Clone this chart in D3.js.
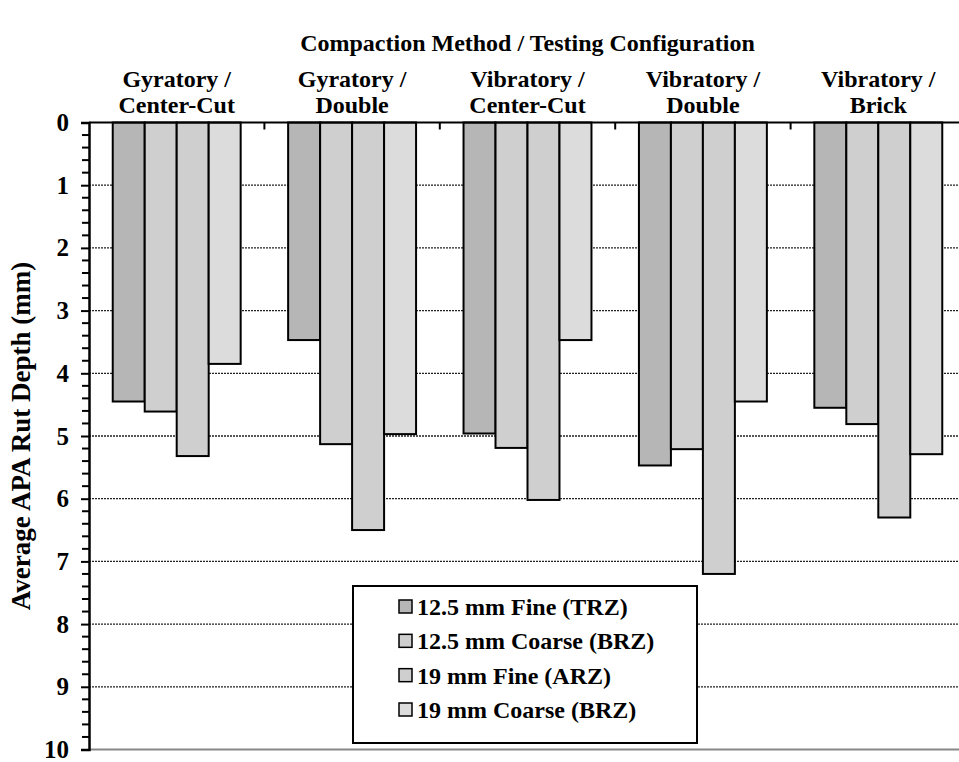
<!DOCTYPE html>
<html>
<head>
<meta charset="utf-8">
<script src="https://cdn.jsdelivr.net/npm/d3@7"></script>
<style>
  body { margin: 0; background: #fff; }
  svg { display: block; font-family: "Liberation Serif", "Times New Roman", serif; font-weight: bold; }
</style>
</head>
<body>
<div id="app"></div>
<script>
// categories (two text lines each)
const categories = ["Gyratory / Center-Cut", "Gyratory / Double", "Vibratory / Center-Cut", "Vibratory / Double", "Vibratory / Brick"]
const categoryLines = [
  ["Gyratory /", "Center-Cut"],
  ["Gyratory /", "Double"],
  ["Vibratory /", "Center-Cut"],
  ["Vibratory /", "Double"],
  ["Vibratory /", "Brick"]
]
const seriesNames = ["12.5 mm Fine (TRZ)", "12.5 mm Coarse (BRZ)", "19 mm Fine (ARZ)", "19 mm Coarse (BRZ)"]
const fine125 = [4.45, 3.47, 4.96, 5.47, 4.55]
const coarse125 = [4.61, 5.13, 5.19, 5.21, 4.81]
const fine19 = [5.32, 6.50, 6.02, 7.20, 6.30]
const coarse19 = [3.85, 4.97, 3.47, 4.45, 5.29]
const yTicks = [0, 1, 2, 3, 4, 5, 6, 7, 8, 9, 10]

const colors = ["#b6b6b6", "#cfcfcf", "#cfcfcf", "#dcdcdc"]
const seriesValues = [fine125, coarse125, fine19, coarse19]

const width = 959, height = 762
const mLeft = 89, mRight = 966, mTop = 122.5, mBottom = 749.5

const svg = d3.select('#app').append('svg')
  .attr('width', width)
  .attr('height', height)

const x0 = d3.scaleBand().domain(categories).range([mLeft, mRight]).paddingInner(0).paddingOuter(0)
const x1 = d3.scaleBand().domain(seriesNames).range([0, x0.bandwidth()]).paddingInner(0).paddingOuter(0.742)
const y = d3.scaleLinear().domain([0, 10]).range([mTop, mBottom])

// gridlines
svg.append('g')
  .selectAll('line')
  .data(yTicks.filter(d => d > 0 && d < 10))
  .enter()
  .append('line')
  .attr('x1', mLeft).attr('x2', mRight)
  .attr('y1', d => y(d)).attr('y2', d => y(d))
  .attr('stroke', '#222')
  .attr('stroke-width', 1.3)
  .attr('stroke-dasharray', '2,1')

// bars
const groups = svg.append('g')
  .selectAll('g')
  .data(categories)
  .enter()
  .append('g')
  .attr('transform', d => 'translate(' + x0(d) + ',0)')

groups.selectAll('rect')
  .data((d, i) => seriesNames.map((s, j) => ({ s: s, v: seriesValues[j][i], j: j })))
  .enter()
  .append('rect')
  .attr('x', d => x1(d.s))
  .attr('y', y(0))
  .attr('width', x1.bandwidth())
  .attr('height', d => y(d.v) - y(0))
  .attr('fill', d => colors[d.j])
  .attr('stroke', '#000')
  .attr('stroke-width', 2)

// bottom line (10)
svg.append('line')
  .attr('x1', mLeft).attr('x2', mRight)
  .attr('y1', y(10)).attr('y2', y(10))
  .attr('stroke', '#888')
  .attr('stroke-width', 2)

// top line with ticks between categories
svg.append('line')
  .attr('x1', mLeft).attr('x2', mRight)
  .attr('y1', y(0)).attr('y2', y(0))
  .attr('stroke', '#000').attr('stroke-width', 2)
svg.append('g')
  .selectAll('line')
  .data(categories.slice(1))
  .enter()
  .append('line')
  .attr('x1', d => x0(d)).attr('x2', d => x0(d))
  .attr('y1', y(0)).attr('y2', y(0) + 7)
  .attr('stroke', '#000').attr('stroke-width', 2)

// left axis
const yAxis = d3.axisLeft(y).tickValues(yTicks).tickSize(8).tickPadding(12)
const ga = svg.append('g')
  .attr('transform', 'translate(' + mLeft + ',0)')
  .call(yAxis)
ga.select('.domain').attr('stroke-width', 2.5)
ga.selectAll('.tick line').attr('stroke-width', 2)
ga.selectAll('.tick text')
  .attr('font-size', 25)
  .attr('font-family', '"Liberation Serif", serif')
  .attr('font-weight', 'bold')
  .attr('fill', '#000')

const minor = d3.range(0, 10.001, 0.2).filter(d => Math.abs(d - Math.round(d)) > 0.01)
svg.append('g')
  .selectAll('line')
  .data(minor)
  .enter()
  .append('line')
  .attr('x1', mLeft - 7).attr('x2', mLeft)
  .attr('y1', d => y(d)).attr('y2', d => y(d))
  .attr('stroke', '#000').attr('stroke-width', 2)

// category labels
const lab = svg.append('g')
  .selectAll('text')
  .data(categories)
  .enter()
  .append('text')
  .attr('x', d => x0(d) + x0.bandwidth() / 2)
  .attr('y', 87)
  .attr('text-anchor', 'middle')
  .attr('font-size', 24)
lab.each(function (d, i) {
  d3.select(this).selectAll('tspan')
    .data(categoryLines[i])
    .enter()
    .append('tspan')
    .attr('x', x0(d) + x0.bandwidth() / 2)
    .attr('dy', (t, k) => k === 0 ? 0 : 26)
    .text(t => t)
})

// title
svg.append('text')
  .attr('x', (mLeft + mRight) / 2)
  .attr('y', 51)
  .attr('text-anchor', 'middle')
  .attr('font-size', 24)
  .text('Compaction Method / Testing Configuration')

// y axis title
svg.append('text')
  .attr('transform', 'translate(30,' + ((mTop + mBottom) / 2) + ') rotate(-90)')
  .attr('text-anchor', 'middle')
  .attr('font-size', 27)
  .text('Average APA Rut Depth (mm)')

// legend
const legend = svg.append('g')
legend.append('rect')
  .attr('x', 353).attr('y', 586)
  .attr('width', 344).attr('height', 157)
  .attr('fill', '#fff')
  .attr('stroke', '#000')
  .attr('stroke-width', 2)

const ly = d3.scalePoint().domain(seriesNames).range([607, 710])
const items = legend.selectAll('g.item')
  .data(seriesNames)
  .enter()
  .append('g')
  .attr('class', 'item')
items.append('rect')
  .attr('x', 399).attr('y', d => ly(d) - 7)
  .attr('width', 13).attr('height', 13)
  .attr('fill', (d, i) => colors[i])
  .attr('stroke', '#000')
  .attr('stroke-width', 1.5)
items.append('text')
  .attr('x', 417)
  .attr('y', d => ly(d) + 8)
  .attr('font-size', 24)
  .text(d => d)
</script>
</body>
</html>
